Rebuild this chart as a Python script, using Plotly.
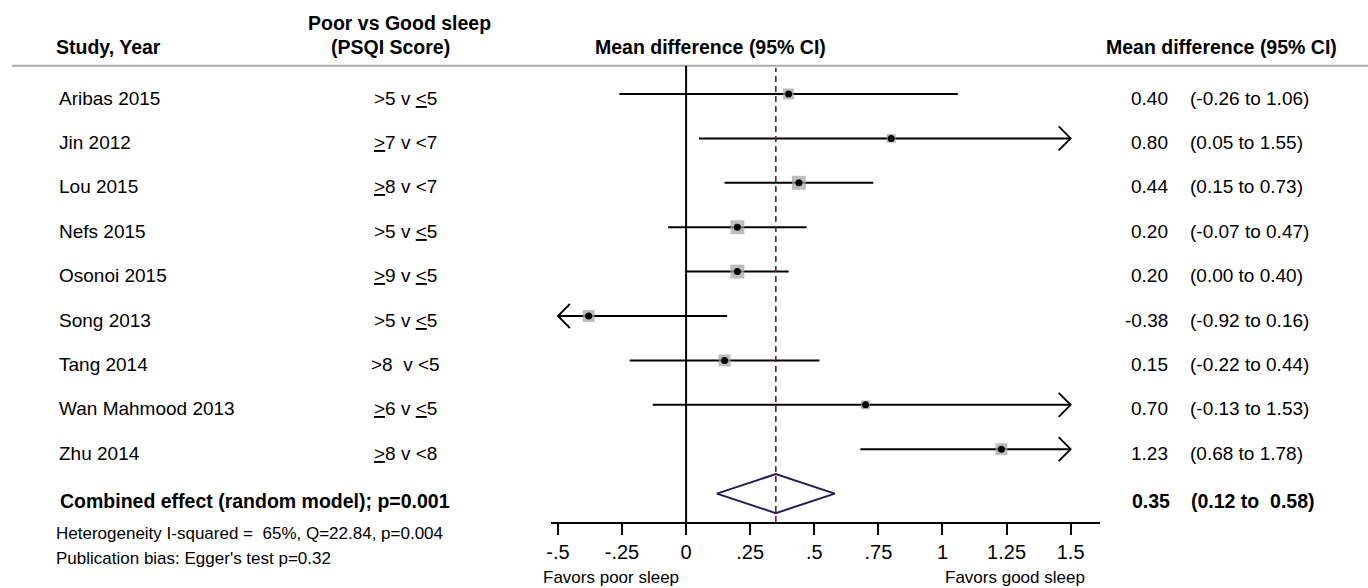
import plotly.graph_objects as go

# ---------------- data ----------------
studies = ["Aribas 2015", "Jin 2012", "Lou 2015", "Nefs 2015", "Osonoi 2015",
           "Song 2013", "Tang 2014", "Wan Mahmood 2013", "Zhu 2014"]
comparisons = [">5 v <u>&lt;</u>5", "<u>&gt;</u>7 v &lt;7", "<u>&gt;</u>8 v &lt;7",
               ">5 v <u>&lt;</u>5", "<u>&gt;</u>9 v <u>&lt;</u>5", ">5 v <u>&lt;</u>5",
               ">8&nbsp; v &lt;5", "<u>&gt;</u>6 v <u>&lt;</u>5", "<u>&gt;</u>8 v &lt;8"]
mean_diff = [0.40, 0.80, 0.44, 0.20, 0.20, -0.38, 0.15, 0.70, 1.23]
ci_low = [-0.26, 0.05, 0.15, -0.07, 0.00, -0.92, -0.22, -0.13, 0.68]
ci_high = [1.06, 1.55, 0.73, 0.47, 0.40, 0.16, 0.52, 1.53, 1.78]   # as drawn
ci_labels = ["(-0.26 to 1.06)", "(0.05 to 1.55)", "(0.15 to 0.73)", "(-0.07 to 0.47)",
             "(0.00 to 0.40)", "(-0.92 to 0.16)", "(-0.22 to 0.44)", "(-0.13 to 1.53)",
             "(0.68 to 1.78)"]
weights = [9.3, 6.2, 15.0, 15.0, 15.0, 11.1, 11.1, 6.2, 11.1]   # relative study weights (%)

pooled_label = "Combined effect (random model); p=0.001"
pooled_md = 0.35
pooled_low = 0.12
pooled_high = 0.58
pooled_ci_label = "(0.12 to&nbsp; 0.58)"

tick_vals = [-0.5, -0.25, 0, 0.25, 0.5, 0.75, 1, 1.25, 1.5]
tick_text = ["-.5", "-.25", "0", ".25", ".5", ".75", "1", "1.25", "1.5"]

heterogeneity_note = "Heterogeneity I-squared =&nbsp; 65%, Q=22.84, p=0.004"
bias_note = "Publication bias: Egger's test p=0.32"
left_favor = "Favors poor sleep"
right_favor = "Favors good sleep"

# ---------------- layout constants ----------------
W, H = 1368, 588
FONT = "Liberation Sans, Arial, Helvetica, sans-serif"
XMIN, XMAX = -0.5, 1.5          # displayed limits (arrows beyond)
ZERO_PX, PX_UNIT = 683.6, 257.3
AX_L, AX_R = 548.0, 1099.0
ROW0, ROW_H = 94.0, 44.4
AXIS_PX = 522.0
HEADER_LINE_PX = 65.7


def fx(p):
    return p / W


def fy(p):
    return 1 - p / H


n = len(studies)
rows = list(range(n))
pooled_row = n

fig = go.Figure()

# CI lines
xs, ys = [], []
for r, lo, hi in zip(rows, ci_low, ci_high):
    xs += [max(lo, XMIN), min(hi, XMAX), None]
    ys += [r, r, None]
fig.add_trace(go.Scatter(x=xs, y=ys, mode="lines", line=dict(color="black", width=2),
                         hoverinfo="skip"))

# arrowheads for truncated CIs
dx = 12.0 / PX_UNIT
dy = 12.0 / ROW_H
ax_, ay_ = [], []
for r, lo, hi in zip(rows, ci_low, ci_high):
    if hi > XMAX:
        ax_ += [XMAX - dx, XMAX, XMAX - dx, None]
        ay_ += [r - dy, r, r + dy, None]
    if lo < XMIN:
        ax_ += [XMIN + dx, XMIN, XMIN + dx, None]
        ay_ += [r - dy, r, r + dy, None]
fig.add_trace(go.Scatter(x=ax_, y=ay_, mode="lines", line=dict(color="black", width=1.8),
                         hoverinfo="skip"))

# weight squares
fig.add_trace(go.Scatter(
    x=mean_diff, y=rows, mode="markers",
    marker=dict(symbol="square", color="#a3a3a3", size=[3.6 * w ** 0.5 for w in weights],
                line=dict(width=0)),
    hoverinfo="skip"))
# point estimates
fig.add_trace(go.Scatter(
    x=mean_diff, y=rows, mode="markers",
    marker=dict(symbol="circle", color="black", size=7, line=dict(width=0)),
    hoverinfo="skip"))

# pooled diamond
dh = 19.5 / ROW_H
fig.add_trace(go.Scatter(
    x=[pooled_low, pooled_md, pooled_high, pooled_md, pooled_low],
    y=[pooled_row, pooled_row - dh, pooled_row, pooled_row + dh, pooled_row],
    mode="lines", line=dict(color="#1d1d55", width=2), hoverinfo="skip"))

shapes = [
    dict(type="line", xref="paper", yref="paper", x0=fx(7), x1=1.0,
         y0=fy(HEADER_LINE_PX), y1=fy(HEADER_LINE_PX), line=dict(color="#a8a8a8", width=2)),
    dict(type="line", xref="x", yref="paper", x0=0, x1=0,
         y0=fy(AXIS_PX), y1=fy(HEADER_LINE_PX), line=dict(color="black", width=2)),
    dict(type="line", xref="x", yref="paper", x0=pooled_md, x1=pooled_md,
         y0=fy(AXIS_PX), y1=fy(HEADER_LINE_PX + 2), line=dict(color="#6e1e2d", width=1.6, dash="6px,4px")),
]

annotations = []


def ann(text, x, y, xref="paper", yref="paper", size=19.5, xanchor="left", yshift=0):
    annotations.append(dict(text=text, x=x, y=y, xref=xref, yref=yref, showarrow=False,
                            xanchor=xanchor, yanchor="middle", yshift=yshift,
                            font=dict(family=FONT, size=size, color="black")))


# headers
ann("<b>Study, Year</b>", fx(49), fy(47))
ann("<b>Poor vs Good sleep</b>", fx(396), fy(23), xanchor="center")
ann("<b>(PSQI Score)</b>", fx(387), fy(47), xanchor="center")
ann("<b>Mean difference (95% CI)</b>", fx(708), fy(47), xanchor="center")
ann("<b>Mean difference (95% CI)</b>", fx(1103), fy(47))

TXT_SHIFT = -4
for r, s, c, m, ci in zip(rows, studies, comparisons, mean_diff, ci_labels):
    ann(s, fx(52), r, yref="y", size=19, yshift=TXT_SHIFT)
    ann(c, fx(402), r, yref="y", size=19, xanchor="center", yshift=TXT_SHIFT)
    ann(f"{m:.2f}", fx(1169), r, yref="y", size=19, xanchor="right", yshift=TXT_SHIFT)
    ann(ci, fx(1187), r, yref="y", size=19, yshift=TXT_SHIFT)

ann(f"<b>{pooled_label}</b>", fx(53), pooled_row, yref="y", size=19.5, yshift=TXT_SHIFT - 3)
ann(f"<b>{pooled_md:.2f}</b>", fx(1171), pooled_row, yref="y", size=19.5, xanchor="right",
    yshift=TXT_SHIFT - 3)
ann(f"<b>{pooled_ci_label}</b>", fx(1188), pooled_row, yref="y", size=19.5, yshift=TXT_SHIFT - 3)

ann(heterogeneity_note, fx(49), fy(533), size=17)
ann(bias_note, fx(49), fy(558), size=17)
ann(left_favor, fx(538), fy(577), size=17)
ann(right_favor, fx(1086), fy(577), size=17, xanchor="right")

fig.update_layout(
    width=W, height=H, margin=dict(l=0, r=0, t=0, b=0),
    paper_bgcolor="white", plot_bgcolor="white", showlegend=False,
    font=dict(family=FONT, color="black"),
    shapes=shapes, annotations=annotations, hovermode=False,
    xaxis=dict(domain=[fx(AX_L), fx(AX_R)],
               range=[(AX_L - ZERO_PX) / PX_UNIT, (AX_R - ZERO_PX) / PX_UNIT],
               showgrid=False, zeroline=False, showline=True, linecolor="black", linewidth=2,
               ticks="outside", ticklen=11, tickwidth=2, tickcolor="black",
               tickvals=tick_vals, ticktext=tick_text,
               tickfont=dict(family=FONT, size=20, color="black")),
    yaxis=dict(domain=[fy(AXIS_PX), 1.0],
               range=[(AXIS_PX - ROW0) / ROW_H, -ROW0 / ROW_H],
               visible=False, showgrid=False, zeroline=False),
)

fig.write_html("out.html", config={"displayModeBar": False},
               post_script="document.body.style.margin='0';document.body.style.overflow='hidden';")
